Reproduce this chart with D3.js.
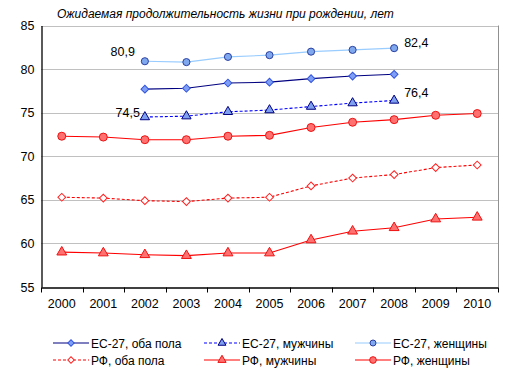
<!DOCTYPE html>
<html lang="ru">
<head>
<meta charset="utf-8">
<script src="https://d3js.org/d3.v7.min.js"></script>
<style>
body { margin: 0; background: #fff; }
text { font-family: "Liberation Sans", Arial, sans-serif; }
</style>
</head>
<body>
<div id="chart"></div>
<script>
var years = ["2000","2001","2002","2003","2004","2005","2006","2007","2008","2009","2010"];
var euYears = ["2002","2003","2004","2005","2006","2007","2008"];
var yTicks = [55, 60, 65, 70, 75, 80, 85];

var euBoth  = [77.7, 77.8, 78.4, 78.5, 78.9, 79.2, 79.4];
var euMen   = [74.5, 74.6, 75.1, 75.3, 75.7, 76.1, 76.4];
var euWomen = [80.9, 80.8, 81.4, 81.6, 82.0, 82.2, 82.4];
var ruBoth  = [65.3, 65.2, 64.9, 64.8, 65.2, 65.3, 66.6, 67.5, 67.9, 68.7, 69.0];
var ruMen   = [59.0, 58.9, 58.7, 58.6, 58.9, 58.9, 60.4, 61.4, 61.8, 62.8, 63.0];
var ruWomen = [72.3, 72.2, 71.9, 71.9, 72.3, 72.4, 73.3, 73.9, 74.2, 74.7, 74.9];

// "diamond" = square turned by 45 degrees, as in the spreadsheet markers
var series = [
  {name: "ЕС-27, оба пола",  x: euYears, v: euBoth,  line: "#000080", dash: null,  sym: d3.symbolSquare,   rot: 45, size: 30, fill: "#7f9ff5", stroke: "#3355dd"},
  {name: "ЕС-27, мужчины",   x: euYears, v: euMen,   line: "#0000ff", dash: "3,2", sym: d3.symbolTriangle, rot: 0,  size: 38, fill: "#7fa0ef", stroke: "#000080"},
  {name: "ЕС-27, женщины",   x: euYears, v: euWomen, line: "#99ccff", dash: null,  sym: d3.symbolCircle,   rot: 0,  size: 40, fill: "#7fa8ef", stroke: "#2a3f9f"},
  {name: "РФ, оба пола",     x: years,   v: ruBoth,  line: "#ff0000", dash: "3,2", sym: d3.symbolSquare,   rot: 45, size: 30, fill: "#ffffff", stroke: "#ff2222"},
  {name: "РФ, мужчины",      x: years,   v: ruMen,   line: "#ff0000", dash: null,  sym: d3.symbolTriangle, rot: 0,  size: 42, fill: "#ff7070", stroke: "#ee1111"},
  {name: "РФ, женщины",      x: years,   v: ruWomen, line: "#ff0000", dash: null,  sym: d3.symbolCircle,   rot: 0,  size: 50, fill: "#ff7070", stroke: "#ee1111"}
];

var W = 514, H = 376;
var m = {left: 41, right: 16, top: 25.5, bottom: 89};

var svg = d3.select("#chart").append("svg")
  .attr("width", W).attr("height", H);

var x = d3.scaleBand().domain(years).range([m.left, W - m.right]);
var y = d3.scaleLinear().domain([55, 85]).range([H - m.bottom, m.top]);

// gridlines
svg.append("g").selectAll("line")
  .data(yTicks.slice(1))
  .enter().append("line")
  .attr("x1", m.left).attr("x2", W - m.right)
  .attr("y1", function(d) { return Math.round(y(d)) + 0.5; })
  .attr("y2", function(d) { return Math.round(y(d)) + 0.5; })
  .attr("stroke", "#c0c0c0");

// right border
svg.append("line")
  .attr("x1", W - m.right + 0.5).attr("x2", W - m.right + 0.5)
  .attr("y1", m.top).attr("y2", H - m.bottom)
  .attr("stroke", "#909090");

var yAxis = svg.append("g")
  .attr("transform", "translate(" + (m.left + 0.5) + ",0)")
  .call(d3.axisLeft(y).tickValues(yTicks).tickSize(0).tickPadding(7));
yAxis.select(".domain").attr("stroke", "#000").attr("stroke-width", 1.3);
yAxis.selectAll("text").style("font-size", "12.5px").attr("fill", "#000");

var xAxis = svg.append("g")
  .attr("transform", "translate(0," + (Math.round(y(55)) + 0.5) + ")")
  .call(d3.axisBottom(x).tickSize(0).tickPadding(12));
xAxis.select(".domain").attr("stroke", "#000").attr("stroke-width", 1.3);
xAxis.selectAll("text").style("font-size", "12.5px").attr("fill", "#000");
xAxis.selectAll(".tk").data(years.concat(["end"])).enter().append("line")
  .attr("x1", function(d, i) { return Math.round(m.left + i * x.step()) + 0.5; })
  .attr("x2", function(d, i) { return Math.round(m.left + i * x.step()) + 0.5; })
  .attr("y1", 0).attr("y2", 5)
  .attr("stroke", "#000");

var line = d3.line()
  .x(function(d) { return x(d[0]) + x.bandwidth() / 2; })
  .y(function(d) { return y(d[1]); });

series.forEach(function(s) {
  var pts = s.x.map(function(yr, i) { return [yr, s.v[i]]; });
  svg.append("path")
    .attr("d", line(pts))
    .attr("fill", "none")
    .attr("stroke", s.line)
    .attr("stroke-width", 1.1)
    .attr("stroke-dasharray", s.dash);
  svg.append("g").selectAll("path")
    .data(pts).enter().append("path")
    .attr("d", d3.symbol().type(s.sym).size(s.size))
    .attr("transform", function(d) {
      return "translate(" + (x(d[0]) + x.bandwidth() / 2) + "," + y(d[1]) + ") rotate(" + s.rot + ")";
    })
    .attr("fill", s.fill)
    .attr("stroke", s.stroke)
    .attr("stroke-width", 1);
});

// data labels for EU women / men first and last points
var labels = [
  {s: 2, i: 0, dx: -10, dy: -5, anchor: "end"},
  {s: 2, i: 6, dx: 10, dy: -1, anchor: "start"},
  {s: 1, i: 0, dx: -5, dy: 0, anchor: "end"},
  {s: 1, i: 6, dx: 10, dy: -3, anchor: "start"}
];
labels.forEach(function(l) {
  var s = series[l.s];
  svg.append("text")
    .attr("x", x(s.x[l.i]) + x.bandwidth() / 2 + l.dx)
    .attr("y", y(s.v[l.i]) + l.dy)
    .attr("text-anchor", l.anchor)
    .style("font-size", "12.5px")
    .text(s.v[l.i].toFixed(1).replace(".", ","));
});

svg.append("text")
  .attr("x", 57).attr("y", 18)
  .style("font-size", "12px").style("font-style", "italic")
  .text("Ожидаемая продолжительность жизни при рождении, лет");

// legend
var legend = svg.append("g").selectAll("g")
  .data(series).enter().append("g")
  .attr("transform", function(d, i) {
    return "translate(" + (53 + (i % 3) * 151) + "," + (343 + Math.floor(i / 3) * 17) + ")";
  });
legend.append("line")
  .attr("x1", 0).attr("x2", 36)
  .attr("stroke", function(d) { return d.line; })
  .attr("stroke-width", 1.1)
  .attr("stroke-dasharray", function(d) { return d.dash; });
legend.append("path")
  .attr("d", function(d) { return d3.symbol().type(d.sym).size(d.size * 0.7)(); })
  .attr("transform", function(d) { return "translate(18,0) rotate(" + d.rot + ")"; })
  .attr("fill", function(d) { return d.fill; })
  .attr("stroke", function(d) { return d.stroke; });
legend.append("text")
  .attr("x", 38).attr("y", 4.5)
  .style("font-size", "12px")
  .text(function(d) { return d.name; });
</script>
</body>
</html>
